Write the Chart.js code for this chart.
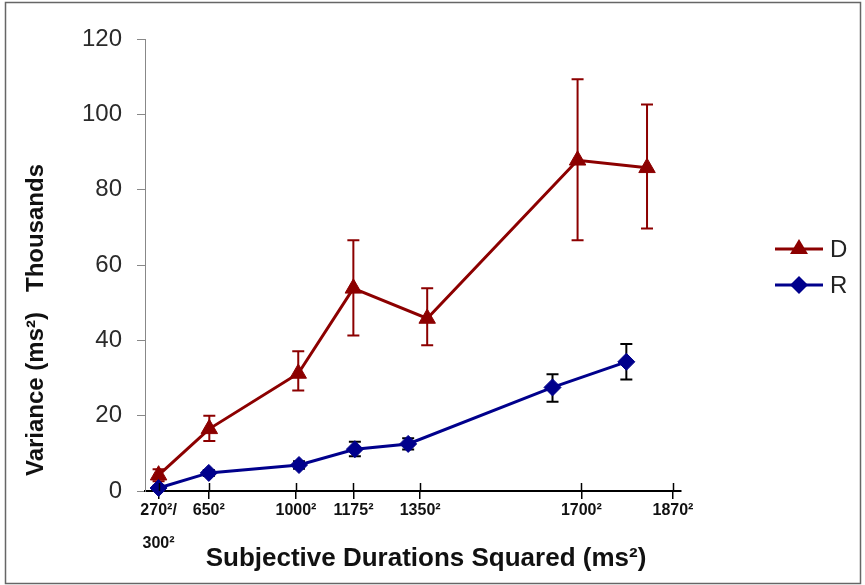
<!DOCTYPE html>
<html>
<head>
<meta charset="utf-8">
<script src="https://cdn.jsdelivr.net/npm/chart.js@4.4.1/dist/chart.umd.min.js"></script>
<style>
  html, body { margin: 0; padding: 0; background: #fff; }
  canvas { display: block; }
</style>
</head>
<body>
<canvas id="chart" width="865" height="585"></canvas>
<script>
// x values are subjective durations squared (ms^2), y values in thousands of ms^2
var xTickValues = [90000, 422500, 1000000, 1380625, 1822500, 2890000, 3496900];
var xTickLabels = [['270²/', '', '300²'], '650²', '1000²', '1175²', '1350²', '1700²', '1870²'];
var yTickStep = 20;

var dX = [90000, 426000, 1015000, 1380000, 1869000, 2865000, 3325000];
var dY = [4.2, 16.5, 31.2, 53.8, 45.8, 87.8, 85.8];
var dHigh = [5.8, 20.0, 37.1, 66.6, 53.8, 109.3, 102.6];
var dLow = [2.6, 13.3, 26.7, 41.3, 38.7, 66.6, 69.7];

var rX = [90000, 422500, 1020000, 1390000, 1743000, 2699000, 3188000];
var rY = [0.8, 4.8, 6.9, 11.1, 12.5, 27.5, 34.3];
var rHigh = [1.4, 5.6, 7.9, 13.1, 14.0, 31.0, 39.0];
var rLow = [0.2, 4.0, 5.9, 9.2, 11.0, 23.7, 29.6];

var D_COLOR = '#8c0000';
var R_COLOR = '#00008c';
var FONT = '"Liberation Sans", Arial, sans-serif';

function points(xs, ys) {
  return xs.map(function (x, i) { return { x: x, y: ys[i] }; });
}

// white page with a thin frame
var framePlugin = {
  id: 'frame',
  beforeDraw: function (chart) {
    var ctx = chart.ctx;
    ctx.save();
    ctx.fillStyle = '#fff';
    ctx.fillRect(0, 0, chart.width, chart.height);
    ctx.strokeStyle = '#666';
    ctx.lineWidth = 1.5;
    ctx.strokeRect(5.5, 2.5, 855, 581);
    ctx.restore();
  }
};

// vertical error bars with caps, drawn under the markers
var errorBarPlugin = {
  id: 'errorBars',
  beforeDatasetsDraw: function (chart) {
    var ctx = chart.ctx, xs = chart.scales.x, ys = chart.scales.y;
    ctx.save();
    chart.data.datasets.forEach(function (ds) {
      ctx.strokeStyle = ds.errColor;
      ctx.lineWidth = 2;
      ds.errHigh.forEach(function (hi, i) {
        var px = xs.getPixelForValue(ds.data[i].x);
        var top = ys.getPixelForValue(hi);
        var bot = ys.getPixelForValue(ds.errLow[i]);
        ctx.beginPath();
        ctx.moveTo(px, top); ctx.lineTo(px, bot);
        ctx.moveTo(px - 6, top); ctx.lineTo(px + 6, top);
        ctx.moveTo(px - 6, bot); ctx.lineTo(px + 6, bot);
        ctx.stroke();
      });
    });
    ctx.restore();
  }
};

// upper half of the cross tick marks, axis titles and legend
var decorPlugin = {
  id: 'decor',
  afterDraw: function (chart) {
    var ctx = chart.ctx, xs = chart.scales.x, area = chart.chartArea;
    ctx.save();
    ctx.strokeStyle = '#000';
    ctx.lineWidth = 1.5;
    xs.ticks.forEach(function (t) {
      var px = Math.round(xs.getPixelForValue(t.value)) + 0.5;
      ctx.beginPath();
      ctx.moveTo(px, area.bottom - 8);
      ctx.lineTo(px, area.bottom);
      ctx.stroke();
    });

    ctx.fillStyle = '#111';
    ctx.font = 'bold 26px ' + FONT;
    ctx.textAlign = 'center';
    ctx.textBaseline = 'alphabetic';
    ctx.fillText('Subjective Durations Squared (ms²)', 426, 566);

    ctx.save();
    ctx.translate(43, 320);
    ctx.rotate(-Math.PI / 2);
    ctx.font = 'bold 24px ' + FONT;
    ctx.fillText('Variance (ms²)   Thousands', 0, 0);
    ctx.restore();

    var items = [
      { label: 'D', color: D_COLOR, shape: 'triangle', y: 249 },
      { label: 'R', color: R_COLOR, shape: 'diamond', y: 285 }
    ];
    items.forEach(function (it) {
      ctx.strokeStyle = it.color;
      ctx.fillStyle = it.color;
      ctx.lineWidth = 3;
      ctx.beginPath();
      ctx.moveTo(775, it.y);
      ctx.lineTo(823, it.y);
      ctx.stroke();
      ctx.beginPath();
      if (it.shape === 'triangle') {
        ctx.moveTo(799, it.y - 10);
        ctx.lineTo(808, it.y + 5);
        ctx.lineTo(790, it.y + 5);
      } else {
        ctx.moveTo(799, it.y - 9);
        ctx.lineTo(808, it.y);
        ctx.lineTo(799, it.y + 9);
        ctx.lineTo(790, it.y);
      }
      ctx.closePath();
      ctx.fill();
      ctx.fillStyle = '#222';
      ctx.font = '24px ' + FONT;
      ctx.textAlign = 'left';
      ctx.textBaseline = 'middle';
      ctx.fillText(it.label, 830, it.y + 1);
    });
    ctx.restore();
  }
};

new Chart(document.getElementById('chart').getContext('2d'), {
  type: 'line',
  data: {
    datasets: [
      {
        label: 'D',
        data: points(dX, dY),
        errHigh: dHigh, errLow: dLow, errColor: D_COLOR,
        borderColor: D_COLOR, backgroundColor: D_COLOR,
        borderWidth: 3, tension: 0,
        pointStyle: 'triangle', pointRadius: 9.5, pointBorderWidth: 1,
        clip: false, order: 2
      },
      {
        label: 'R',
        data: points(rX, rY),
        errHigh: rHigh, errLow: rLow, errColor: '#000',
        borderColor: R_COLOR, backgroundColor: R_COLOR,
        borderWidth: 3, tension: 0,
        pointStyle: 'rectRot', pointRadius: 8.5, pointBorderWidth: 1,
        clip: false, order: 1
      }
    ]
  },
  options: {
    responsive: false,
    devicePixelRatio: 1,
    animation: false,
    layout: { padding: { top: 39, right: 184, bottom: 0, left: 0 } },
    plugins: { legend: { display: false }, tooltip: { enabled: false } },
    scales: {
      x: {
        type: 'linear',
        min: 0,
        max: 3550000,
        afterBuildTicks: function (s) {
          s.ticks = xTickValues.map(function (v) { return { value: v }; });
        },
        afterFit: function (s) {
          s.height = 94;
          s.paddingLeft = 0;
          s.paddingRight = 0;
        },
        ticks: {
          autoSkip: false,
          maxRotation: 0,
          color: '#111',
          padding: 3,
          font: { family: FONT, size: 16, weight: 'bold', lineHeight: 1.05 },
          callback: function (v, i) { return xTickLabels[i]; }
        },
        grid: { drawOnChartArea: false, drawTicks: true, tickLength: 8, color: '#000', lineWidth: 1.5 },
        border: { color: '#000', width: 2 }
      },
      y: {
        min: 0,
        max: 120,
        afterFit: function (s) {
          s.width = 145;
          s.paddingTop = 0;
          s.paddingBottom = 0;
        },
        ticks: {
          stepSize: yTickStep,
          color: '#2a2a2a',
          padding: 15,
          font: { family: FONT, size: 24 }
        },
        grid: { drawOnChartArea: false, drawTicks: true, tickLength: 8, color: '#888', lineWidth: 1 },
        border: { color: '#888', width: 1 }
      }
    }
  },
  plugins: [framePlugin, errorBarPlugin, decorPlugin]
});
</script>
</body>
</html>
